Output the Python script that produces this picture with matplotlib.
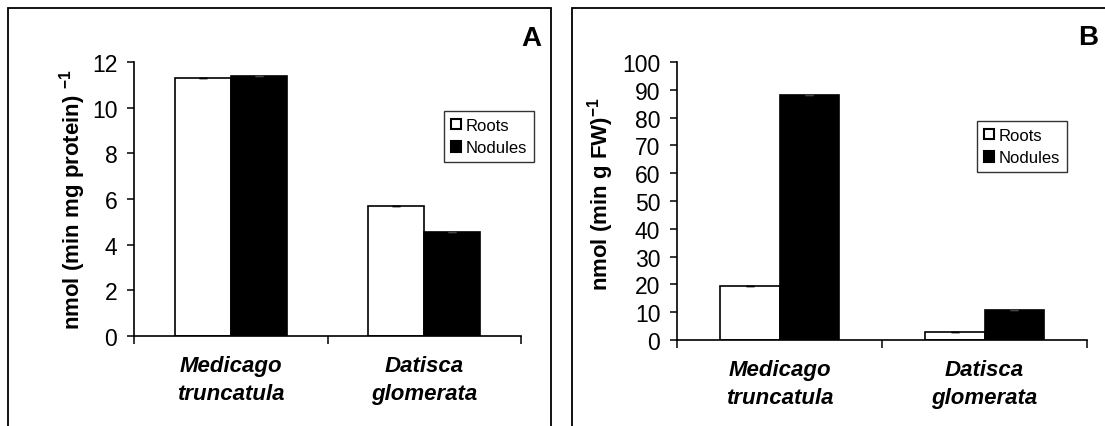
import matplotlib
matplotlib.use('Agg')
import matplotlib.pyplot as plt
from matplotlib.patches import Rectangle, Patch

plt.rcParams['font.family'] = ['Liberation Sans', 'DejaVu Sans']
plt.rcParams['mathtext.fontset'] = 'custom'
plt.rcParams['mathtext.rm'] = 'Liberation Sans:bold'
plt.rcParams['mathtext.it'] = 'Liberation Sans:bold'
plt.rcParams['mathtext.bf'] = 'Liberation Sans:bold'

# data
species = ['Medicago\ntruncatula', 'Datisca\nglomerata']
series = ['Roots', 'Nodules']
roots_a = [11.3, 5.7]
nodules_a = [11.4, 4.57]
roots_b = [19.6, 3.0]
nodules_b = [88.0, 10.9]
err_a = [0.0, 0.0]
err_b = [0.0, 0.0]

W, H = 1105, 427
fig = plt.figure(figsize=(W / 100, H / 100), dpi=100)

# panel frames (in pixels)
def px_rect(x0, y0, x1, y1):
    return Rectangle((x0 / W, 1 - y1 / H), (x1 - x0) / W, (y1 - y0) / H,
                     transform=fig.transFigure, fill=False, edgecolor='black',
                     linewidth=1.3)

fig.patches.append(px_rect(8, 9, 551, 440))
fig.patches.append(px_rect(572, 9, 1120, 440))


def panel(rect, roots, nodules, errs, ylim, yticks, ylabel, label_xy, letter,
          letter_xy, legend_xy, bar_w):
    ax = fig.add_axes(rect)
    x = [0, 1]
    xr = [i - bar_w / 2 for i in x]
    xn = [i + bar_w / 2 for i in x]
    ax.bar(xr, roots, width=bar_w, color='white', edgecolor='black', linewidth=1.2, zorder=2)
    ax.bar(xn, nodules, width=bar_w, color='black', edgecolor='black', linewidth=1.2, zorder=2)
    ax.errorbar(xr, roots, yerr=errs, fmt='none', ecolor='black', capsize=3, elinewidth=1, zorder=3)
    ax.errorbar(xn, nodules, yerr=errs, fmt='none', ecolor='#444444', capsize=3, elinewidth=1, zorder=3)

    ax.set_xlim(-0.5, 1.5)
    ax.set_ylim(*ylim)
    ax.set_yticks(yticks)
    ax.tick_params(axis='y', direction='out', length=5, width=1.1, pad=7, labelsize=16.5)

    ax.set_xticks([-0.5, 0.5, 1.5])
    ax.set_xticklabels([])
    ax.tick_params(axis='x', which='major', direction='out', length=6, width=1.1)
    ax.set_xticks(x, minor=True)
    ax.set_xticklabels(species, minor=True, fontsize=16, fontweight='bold',
                       fontstyle='italic', linespacing=1.4)
    ax.tick_params(axis='x', which='minor', length=0, pad=14)

    for s in ['top', 'right']:
        ax.spines[s].set_visible(False)
    for s in ['left', 'bottom']:
        ax.spines[s].set_linewidth(1.2)

    ax.set_ylabel(ylabel, fontsize=16, fontweight='bold')
    ax.yaxis.set_label_coords(*label_xy)

    fig.text(letter_xy[0] / W, 1 - letter_xy[1] / H, letter, fontsize=20,
             fontweight='bold', ha='center', va='center')

    handles = [Patch(facecolor='white', edgecolor='black', linewidth=1.5),
               Patch(facecolor='black', edgecolor='black', linewidth=1.5)]
    leg = fig.legend(handles, series, loc='upper left',
                     bbox_to_anchor=(legend_xy[0] / W, 1 - legend_xy[1] / H),
                     bbox_transform=fig.transFigure, fontsize=12,
                     frameon=True, fancybox=False, edgecolor='black',
                     handlelength=0.6, handleheight=0.6, handletextpad=0.3,
                     borderpad=0.4, labelspacing=0.45, borderaxespad=0)
    leg.get_frame().set_linewidth(1.0)
    return ax


panel([134 / W, 1 - 337 / H, 387 / W, 274 / H], roots_a, nodules_a, err_a,
      (0, 12), [0, 2, 4, 6, 8, 10, 12], r'nmol (min mg protein) $^{-1}$',
      (-0.12, 0.5), 'A', (531, 39), (444, 112), 0.29)

panel([677 / W, 1 - 341 / H, 410 / W, 278 / H], roots_b, nodules_b, err_b,
      (0, 100), list(range(0, 101, 10)), r'nmol (min g FW)$^{-1}$',
      (-0.15, 0.53), 'B', (1088, 38), (977, 122), 0.29)

fig.savefig('out.png', dpi=100)
